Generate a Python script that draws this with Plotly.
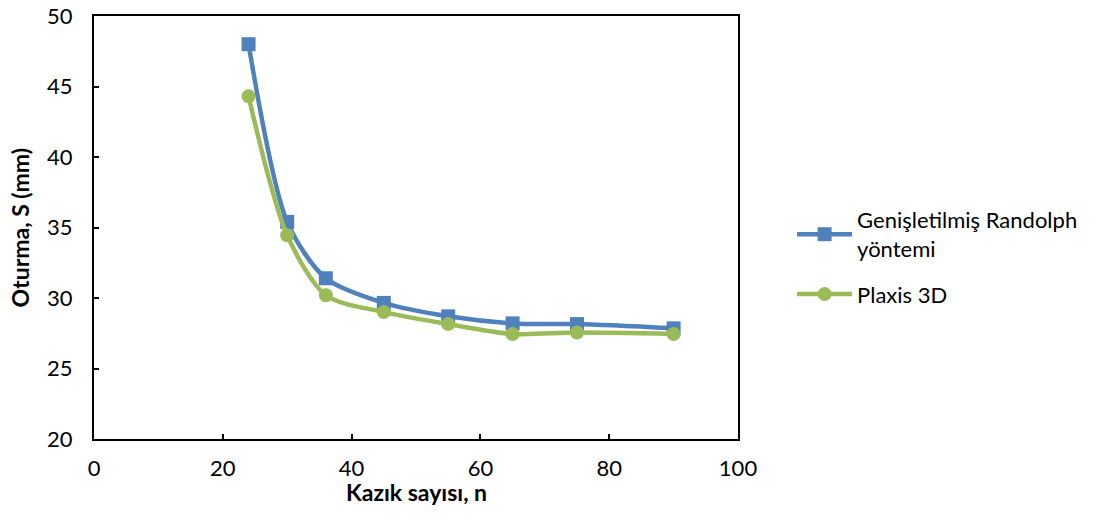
import plotly.graph_objects as go

n_values = [24, 30, 36, 45, 55, 65, 75, 90]
randolph = [48.0, 35.4, 31.4, 29.65, 28.7, 28.2, 28.15, 27.85]
plaxis = [44.3, 34.45, 30.2, 29.0, 28.15, 27.45, 27.55, 27.45]

series_names = ["Genişletilmiş Randolph<br>yöntemi", "Plaxis 3D"]
x_ticks = [0, 20, 40, 60, 80, 100]
y_ticks = [20, 25, 30, 35, 40, 45, 50]
x_title = "Kazık sayısı, n"
y_title = "Oturma, S (mm)"

FONT = "Lato"
TICK_SIZE = 22
TITLE_SIZE = 23

fig = go.Figure()
fig.add_trace(go.Scatter(
    x=n_values, y=randolph, name=series_names[0], mode="lines+markers",
    legendgroup="a",
    line=dict(color="#4F81BD", width=4.5, shape="spline", smoothing=0.8),
    marker=dict(symbol="square", size=14, color="#4F81BD"),
))
fig.add_trace(go.Scatter(
    x=n_values, y=plaxis, name=series_names[1], mode="lines+markers",
    legendgroup="b",
    line=dict(color="#9BBB59", width=4.5, shape="spline", smoothing=0.8),
    marker=dict(symbol="circle", size=14, color="#9BBB59"),
))

axis_common = dict(
    showline=True, linecolor="black", linewidth=2, mirror=True,
    ticks="inside", ticklen=5, tickwidth=1.5, tickcolor="black",
    showgrid=False, zeroline=False, automargin=False,
    ticklabeloverflow="allow",
    tickfont=dict(family=FONT, size=TICK_SIZE, color="black"),
)

fig.update_xaxes(range=[0, 100], tickvals=x_ticks, ticklabelstandoff=9, **axis_common)
fig.update_yaxes(range=[20, 50], tickvals=y_ticks, ticklabelstandoff=15, **axis_common)

fig.add_annotation(
    text="<b>" + x_title + "</b>", xref="paper", yref="paper",
    x=0.5, y=-0.1253, xanchor="center", yanchor="middle", showarrow=False,
    font=dict(family=FONT, size=TITLE_SIZE, color="black"),
)
fig.add_annotation(
    text="<b>" + y_title + "</b>", xref="paper", yref="paper",
    x=-0.115, y=0.5, xanchor="center", yanchor="middle", showarrow=False,
    textangle=-90,
    font=dict(family=FONT, size=TITLE_SIZE, color="black"),
)

fig.update_layout(
    width=1113, height=531,
    margin=dict(l=94, r=375, t=16, b=92),
    paper_bgcolor="white", plot_bgcolor="white",
    legend=dict(
        x=1.084, y=0.43, xanchor="left", yanchor="middle",
        font=dict(family=FONT, size=TICK_SIZE, color="black"),
        traceorder="grouped", tracegroupgap=14, itemwidth=55,
    ),
)

# remove the browser's default 8px body margin so the figure fills the window
fig.write_html("out.html", config={"displayModeBar": False},
               post_script="document.body.style.margin='0';")
